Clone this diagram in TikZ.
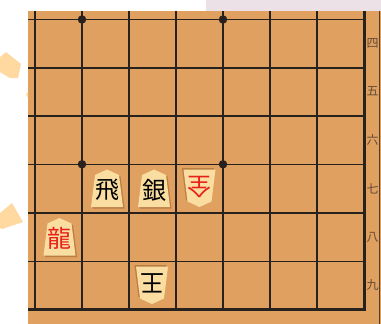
\documentclass[tikz,border=0pt]{standalone}
\usepackage{fontspec}
\newfontfamily\cjk{Noto Sans CJK JP}
\definecolor{boardc}{RGB}{224,160,96}
\definecolor{piecec}{RGB}{250,221,160}
\definecolor{shadowc}{RGB}{170,112,56}
\definecolor{gridc}{RGB}{40,34,30}
\definecolor{labc}{RGB}{100,76,54}
\definecolor{redc}{RGB}{232,32,26}
\definecolor{decoc}{RGB}{255,217,160}
\definecolor{stripc}{RGB}{236,225,230}
\tikzset{
  gridline/.style={gridc,line width=1.6pt},
  borderline/.style={gridc,line width=2.4pt},
  hoshi/.style={circle,fill=gridc,inner sep=0pt,minimum size=8.5pt},
  coordlabel/.style={text=labc,font=\cjk\fontsize{12}{12}\selectfont,inner sep=0pt},
  piecetext/.style={font=\cjk\fontsize{24}{24}\selectfont,inner sep=0pt},
}
% #1 x, #2 y, #3 rotation, #4 text, #5 colour, #6 name
\newcommand{\shogipiece}[6]{%
  \begin{scope}[shift={(#1,#2)},rotate=#3]
    \fill[shadowc,opacity=0.7] (1.5,-17.5) -- (13.5,-12) -- (17.5,20) -- (-14.5,20) -- (-10.5,-12) -- cycle;
    \fill[piecec] (0,-19) -- (12,-13.5) -- (16,18.5) -- (-16,18.5) -- (-12,-13.5) -- cycle;
    \node[piecetext,text=#5,rotate=#3] (#6) at (0,1.5) {#4};
  \end{scope}}
\begin{document}
\begin{tikzpicture}[x=1pt,y=-1pt]
\useasboundingbox (0,0) rectangle (381,324);
% background
\fill[white] (0,0) rectangle (381,324);
\fill[stripc] (206,0) rectangle (381,11);
\fill[boardc] (28,11) rectangle (381,324);
% left decorations
\fill[decoc] (0,57) -- (6,52) -- (21,64) -- (18,78) -- (10,78) -- (0,72) -- cycle;
\fill[decoc] (26,94) -- (28,92) -- (28,98) -- cycle;
\fill[decoc] (0,213) -- (12,203) -- (23,222) -- (2,229) -- (0,228) -- cycle;
% grid
\foreach \x in {35,82,129,176,223,270,317} \draw[gridline] (\x,11) -- (\x,309.3);
\foreach \y in {19.5,68,116,164.3,213,261.6} \draw[gridline] (28,\y) -- (364.3,\y);
\draw[borderline] (364.3,11) -- (364.3,309.3) -- (28,309.3);
\draw[labc!80!black,line width=1pt] (379.8,11) -- (379.8,324);
% hoshi
\node[hoshi] (h1) at (82,19.5) {};
\node[hoshi] (h2) at (223,19.5) {};
\node[hoshi] (h3) at (82,164.3) {};
\node[hoshi] (h4) at (223,164.3) {};
% rank labels
\node[coordlabel] (r4) at (372.5,43) {四};
\node[coordlabel] (r5) at (372.5,91.5) {五};
\node[coordlabel] (r6) at (372.5,140) {六};
\node[coordlabel] (r7) at (372.5,188.5) {七};
\node[coordlabel] (r8) at (372.5,237) {八};
\node[coordlabel] (r9) at (372.5,285.5) {九};
% pieces
\shogipiece{107}{188.5}{0}{飛}{black}{hisha}
\shogipiece{154}{188.5}{0}{銀}{black}{gin}
\shogipiece{199.5}{188}{180}{全}{redc}{narigin}
\shogipiece{59.5}{237}{0}{龍}{redc}{ryu}
\shogipiece{152}{285}{180}{王}{black}{gyoku}
\end{tikzpicture}
\end{document}
